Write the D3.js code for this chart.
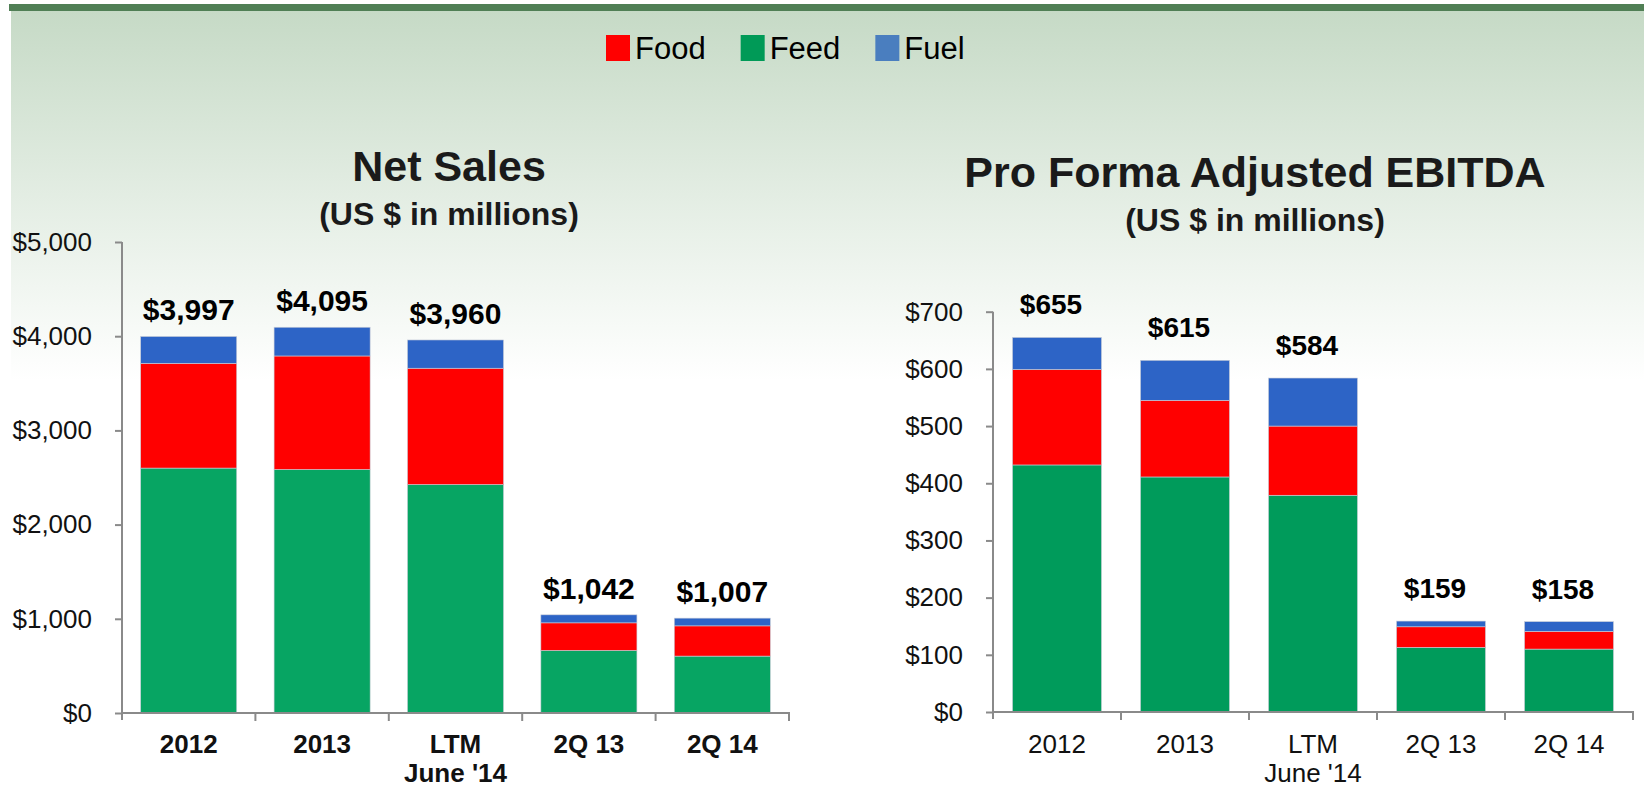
<!DOCTYPE html>
<html>
<head>
<meta charset="utf-8">
<script src="https://cdn.jsdelivr.net/npm/d3@7"></script>
<style>
  body { margin: 0; background: #fff; }
  svg { display: block; font-family: "Liberation Sans", Arial, sans-serif; }
  .axis path, .axis line { stroke: #8a8a8a; stroke-width: 2; }
  .axis text { font-size: 26px; fill: #111; }
</style>
</head>
<body>
<div id="chart"></div>
<script>
var categories = ["2012", "2013", "LTM|June '14", "2Q 13", "2Q 14"];

var salesFeed = [2600, 2585, 2425, 664, 604];
var salesFood = [1112, 1205, 1235, 293, 321];
var salesFuel = [285, 305, 300, 85, 82];
var salesTotal = [3997, 4095, 3960, 1042, 1007];
var salesTicks = [0, 1000, 2000, 3000, 4000, 5000];

var ebitdaFeed = [432, 411, 379, 113, 110];
var ebitdaFood = [167, 134, 121, 36, 31];
var ebitdaFuel = [56, 70, 84, 10, 17];
var ebitdaTotal = [655, 615, 584, 159, 158];
var ebitdaTicks = [0, 100, 200, 300, 400, 500, 600, 700];

var legendNames = ["Food", "Feed", "Fuel"];
var legendColors = ["#ff0000", "#009a57", "#4a7ebf"];

var W = 1644, H = 788;
var svg = d3.select("#chart").append("svg").attr("width", W).attr("height", H);

// background
var grad = svg.append("defs").append("linearGradient")
    .attr("id", "bg").attr("x1", 0).attr("y1", 0).attr("x2", 0).attr("y2", 1);
grad.append("stop").attr("offset", "0%").attr("stop-color", "#c6dac6");
grad.append("stop").attr("offset", "55%").attr("stop-color", "#e6efe6");
grad.append("stop").attr("offset", "100%").attr("stop-color", "#ffffff");
svg.append("rect").attr("x", 11).attr("y", 11).attr("width", W - 11).attr("height", 370).attr("fill", "url(#bg)");
svg.append("rect").attr("x", 9).attr("y", 4).attr("width", W - 9).attr("height", 7).attr("fill", "#507f55");

// legend
var lx = 606;
legendNames.forEach(function(n, i) {
    svg.append("rect").attr("x", lx).attr("y", 35).attr("width", 24).attr("height", 26).attr("fill", legendColors[i]);
    var t = svg.append("text").attr("x", lx + 29).attr("y", 59).attr("font-size", 31).attr("fill", "#000").text(n);
    lx += 29 + t.node().getComputedTextLength() + 35;
});

function drawChart(o) {
    var rows = categories.map(function(c, i) {
        return {cat: c, Feed: o.feed[i], Food: o.food[i], Fuel: o.fuel[i], total: o.total[i]};
    });

    var x = d3.scaleBand().domain(categories).range([o.x0, o.x1]).paddingInner(o.pad).paddingOuter(o.pad / 2);
    var y = d3.scaleLinear().domain([0, o.max]).range([o.y0, o.yTop]);

    var g = svg.append("g");

    g.append("text").attr("x", o.cx).attr("y", o.titleY).attr("text-anchor", "middle")
        .attr("font-size", 43).attr("font-weight", "bold").attr("fill", "#1a1a1a").text(o.title);
    g.append("text").attr("x", o.cx).attr("y", o.titleY + 44).attr("text-anchor", "middle")
        .attr("font-size", 32).attr("font-weight", "bold").attr("fill", "#1a1a1a").text("(US $ in millions)");

    var stack = d3.stack().keys(["Feed", "Food", "Fuel"])(rows);
    var colors = {Feed: o.green, Food: "#ff0000", Fuel: "#2d64c6"};

    g.selectAll(".layer").data(stack).enter().append("g")
        .attr("fill", function(d) { return colors[d.key]; })
        .selectAll("rect").data(function(d) { return d; }).enter().append("rect")
        .attr("x", function(d) { return x(d.data.cat); })
        .attr("y", function(d) { return y(d[1]); })
        .attr("width", x.bandwidth())
        .attr("height", function(d) { return y(d[0]) - y(d[1]); })
        .attr("stroke", "#c9cdd8").attr("stroke-width", 0.6);

    g.selectAll(".total").data(rows).enter().append("text")
        .attr("x", function(d) { return x(d.cat) + x.bandwidth() / 2 + o.labelDx; })
        .attr("y", function(d) { return y(d.total) - o.labelGap; })
        .attr("text-anchor", "middle").attr("font-weight", "bold").attr("font-size", o.labelSize)
        .attr("fill", "#000")
        .text(function(d) { return "$" + d3.format(",")(d.total); });

    // y axis
    var ya = g.append("g").attr("class", "axis").attr("transform", "translate(" + o.x0 + ",0)")
        .call(d3.axisLeft(y).tickValues(o.ticks).tickSize(7).tickSizeOuter(0).tickPadding(23)
            .tickFormat(function(d) { return "$" + d3.format(",")(d); }));
    ya.select(".domain").attr("d", "M0," + o.yTop + "V" + (o.y0 + 7));

    // x axis with ticks at category boundaries
    var xa = g.append("g").attr("class", "axis");
    xa.append("line").attr("x1", o.x0 - 1).attr("x2", o.x1 + 1).attr("y1", o.y0).attr("y2", o.y0);
    var half = x.step() * x.paddingInner() / 2;
    var bounds = categories.map(function(c) { return x(c) - half; }).concat([o.x1]);
    xa.selectAll(".xt").data(bounds.slice(1)).enter().append("line")
        .attr("x1", function(d) { return d; }).attr("x2", function(d) { return d; })
        .attr("y1", o.y0).attr("y2", o.y0 + 8);

    var lbl = g.selectAll(".xl").data(categories).enter().append("text")
        .attr("text-anchor", "middle").attr("font-size", 26).attr("fill", "#111")
        .attr("font-weight", o.boldX ? "bold" : "normal");
    lbl.each(function(c) {
        var parts = c.split("|");
        var t = d3.select(this);
        parts.forEach(function(p, k) {
            t.append("tspan").attr("x", x(c) + x.bandwidth() / 2).attr("y", 753 + k * 29).text(p);
        });
    });
}

drawChart({
    title: "Net Sales", cx: 449, titleY: 181,
    feed: salesFeed, food: salesFood, fuel: salesFuel, total: salesTotal,
    ticks: salesTicks, max: 5000,
    x0: 122, x1: 789, y0: 713, yTop: 242, pad: 0.28,
    green: "#07a563", labelSize: 30, labelGap: 16, labelDx: 0, boldX: true
});

drawChart({
    title: "Pro Forma Adjusted EBITDA", cx: 1255, titleY: 187,
    feed: ebitdaFeed, food: ebitdaFood, fuel: ebitdaFuel, total: ebitdaTotal,
    ticks: ebitdaTicks, max: 700,
    x0: 993, x1: 1633, y0: 712, yTop: 311.7, pad: 0.305,
    green: "#009b5b", labelSize: 28, labelGap: 23, labelDx: -6, boldX: false
});
</script>
</body>
</html>
